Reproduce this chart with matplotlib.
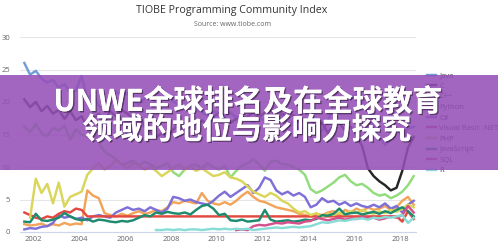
import numpy as np
import matplotlib
matplotlib.use("Agg")
import matplotlib.pyplot as plt
import matplotlib.patheffects as pe
from matplotlib.patches import Rectangle

nan = np.nan

# quarterly samples starting at 2001.6
start_year = 2001.6
step = 0.25

java = [26.0, 24.2,
        24.8, 23.6, 23.0, 23.4,  22.2, 22.8, 21.4, 21.8,  24.0, 20.6, 21.2, 19.4,
        18.6, 20.8, 21.6, 20.9,  21.4, 20.2, 19.6, 20.5,  20.9, 19.8, 20.4, 21.0,
        20.1, 19.5, 19.2, 19.8,  18.9, 18.4, 17.9, 18.6,  18.2, 17.8, 18.4, 17.6,
        17.9, 17.4, 16.9, 17.5,  17.2, 16.6, 17.8, 18.1,  16.4, 16.9, 15.8, 16.2,
        15.4, 14.9, 15.6, 16.8,  19.6, 20.2, 21.0, 20.4,  21.2, 19.8, 18.6, 16.2,
        14.6, 13.4, 14.2, 15.6,  14.8, 15.9, 16.2]
c_lang = [20.4, 19.2,
          20.0, 18.6, 19.4, 18.2,  18.8, 17.4, 18.6, 17.2,  17.8, 16.2, 17.4, 18.2,
          17.0, 18.6, 17.8, 18.8,  18.2, 17.4, 18.0, 16.2,  15.4, 14.6, 15.2, 14.6,
          15.8, 16.4, 15.6, 16.2,  16.8, 17.2, 16.4, 17.8,  18.2, 17.6, 16.8, 17.4,
          17.2, 17.8, 18.4, 17.6,  18.4, 18.8, 17.6, 18.2,  17.8, 18.0, 16.8, 17.4,
          17.2, 16.4, 16.8, 15.2,  16.4, 16.8, 15.6, 16.2,  14.8, 13.2, 9.8, 8.6,
          7.8, 7.2, 6.4, 6.8,  9.4, 13.0, 14.6]
cpp = [16.2, 15.4,
       16.6, 15.2, 14.8, 16.0,  15.6, 16.4, 14.2, 15.8,  15.0, 14.6, 15.8, 13.6,
       12.4, 11.8, 11.2, 10.4,  10.6, 11.0, 10.2, 10.8,  10.4, 9.8, 10.2, 10.6,
       9.2, 8.6, 9.6, 10.2,  10.4, 9.8, 10.6, 10.0,  9.6, 10.2, 8.4, 9.4,
       10.2, 10.6, 11.2, 10.4,  9.4, 10.8, 11.0, 10.4,  10.4, 10.0, 9.6, 8.8,
       6.6, 6.0, 6.4, 7.0,  7.6, 8.4, 8.8, 7.8,  7.2, 7.4, 6.8, 6.0,
       5.6, 5.8, 5.2, 5.6,  6.2, 7.2, 8.6]
python = [1.2, 1.0,
          1.1, 1.3, 0.9, 1.2,  1.0, 1.4, 1.1, 1.3,  1.2, 6.4, 5.6, 5.2,
          2.9, 2.6, 2.4, 2.8,  2.5, 2.9, 3.2, 2.8,  3.0, 3.4, 3.2, 3.8,
          4.6, 4.4, 4.8, 4.6,  4.4, 6.0, 4.8, 4.4,  4.2, 4.6, 4.2, 4.8,
          5.6, 6.2, 5.4, 4.8,  4.6, 4.2, 3.8, 3.6,  3.4, 3.2, 2.8, 2.6,
          2.4, 2.8, 2.6, 3.0,  3.2, 2.6, 3.4, 3.0,  3.6, 3.2, 3.8, 3.4,
          3.6, 4.0, 3.4, 3.8,  4.8, 5.4, 4.2]
csharp = [0.4, 0.6,
          0.5, 0.8, 0.9, 1.4,  2.6, 2.2, 2.4, 2.0,  2.2, 1.8, 2.4, 2.6,
          2.4, 2.2, 3.0, 3.4,  3.8, 3.4, 3.6, 3.2,  3.8, 3.4, 3.0, 3.6,
          5.4, 5.2, 4.8, 5.0,  4.6, 4.4, 4.2, 4.8,  5.6, 6.2, 5.4, 6.0,
          6.6, 7.2, 6.0, 6.8,  8.4, 8.0, 6.4, 5.8,  6.2, 5.6, 6.0, 5.4,
          3.8, 4.2, 5.2, 4.6,  4.8, 4.2, 4.6, 4.0,  4.4, 4.0, 3.8, 4.2,
          3.8, 4.4, 3.6, 4.0,  3.0, 4.2, 4.8]
vbnet = [3.0, 2.6,
         2.2, 2.0, 2.4, 2.2,  2.8, 3.2, 3.0, 3.6,  3.4, 2.4, 2.4, 2.4,
         2.4, 2.4, 2.4, 2.4,  2.4, 2.4, 2.4, 2.4,  2.4, 2.4, 2.4, 2.4,
         2.4, 2.4, 2.4, 2.4,  2.4, 2.4, 2.4, 2.4,  2.4, 2.4, 2.4, 2.4,
         2.4, 2.4, 2.4, 2.4,  2.4, 2.4, 2.4, 2.4,  2.4, 2.4, 2.4, 2.4,
         2.4, 2.4, 2.4, 2.4,  2.4, 2.4, 2.4, 2.4,  2.4, 2.4, 2.4, 2.4,
         2.4, 2.4, 2.4, 2.4,  1.6, 3.2, 2.0]
php = [nan, 2.2,
       8.2, 6.0, 7.4, 4.4,  7.6, 3.9, 5.4, 5.8,  6.2, 8.8, 9.8, 10.6,
       9.6, 10.2, 11.0, 10.4,  9.8, 10.6, 10.2, 9.6,  10.0, 9.4, 8.6, 9.2,
       9.8, 10.4, 9.6, 10.0,  9.4, 9.8, 9.2, 8.6,  8.8, 9.2, 8.4, 8.2,
       7.8, 7.0, 6.2, 5.8,  5.4, 6.0, 5.6, 4.8,  4.4, 3.6, 3.0, 3.2,
       2.6, 2.9, 2.4, 2.8,  2.6, 3.0, 2.7, 3.2,  2.9, 3.4, 3.0, 2.8,
       3.2, 2.9, 3.4, 3.1,  3.6, 4.2, 3.8]
javascript = [1.6, 1.5,
              2.8, 1.8, 1.7, 1.9,  2.2, 2.9, 2.4, 2.0,  1.8, 2.0, 1.6, 1.9,
              1.8, 1.6, 1.5, 1.7,  1.6, 1.8, 2.2, 2.6,  2.4, 3.0, 2.8, 3.1,
              2.9, 2.8, 3.0, 2.7,  3.4, 4.0, 4.2, 3.6,  2.6, 2.8, 1.8, 1.7,
              1.9, 1.6, 1.7, 1.8,  3.4, 1.9, 1.6, 1.7,  1.8, 1.6, 1.7, 1.9,
              1.8, 2.0, 2.6, 2.5,  2.8, 3.6, 2.7, 2.9,  3.0, 2.7, 2.9, 3.1,
              2.8, 3.2, 2.9, 3.4,  3.8, 3.2, 2.4]
sql = [nan, nan,
       nan, nan, nan, nan,  nan, nan, nan, nan,  nan, nan, nan, nan,
       nan, nan, nan, nan,  nan, nan, nan, nan,  nan, nan, nan, nan,
       nan, nan, nan, nan,  nan, nan, nan, nan,  nan, nan, nan, 0.3,
       0.4, 0.3, 0.9, 1.1,  1.0, 1.2, 1.4, 1.3,  1.5, 1.4, 1.3, 1.6,
       1.7, 2.2, 2.0, 1.8,  2.0, 2.2, 1.9, 2.1,  2.0, 2.3, 2.1, 2.2,
       1.9, 2.1, 2.4, 2.2,  2.6, 4.0, 3.0]
r_lang = [nan, nan,
          nan, nan, nan, nan,  nan, nan, nan, nan,  nan, nan, nan, nan,
          nan, nan, nan, nan,  nan, nan, nan, nan,  nan, 0.3, 0.3, 0.4,
          0.3, 0.4, 0.3, 0.4,  0.4, 0.3, 0.4, 0.5,  0.4, 0.5, 0.4, 0.5,
          0.4, 0.5, 0.3, 0.4,  0.5, 0.6, 0.7, 0.6,  0.7, 0.8, 0.7, 0.8,
          0.9, 1.2, 1.5, 1.4,  1.6, 1.8, 1.7, 1.9,  2.0, 2.1, 1.9, 2.2,
          2.1, 2.3, 2.2, 2.4,  2.6, 1.4, 2.2]

languages = ["Java", "C", "C++", "Python", "C#", "Visual Basic .NET",
             "PHP", "JavaScript", "SQL", "R"]
series = [java, c_lang, cpp, python, csharp, vbnet, php, javascript, sql, r_lang]
colors = ["#6f9fd6", "#262626", "#93dc7c", "#f2a55a", "#7f70d8", "#e24a40",
          "#d9d65a", "#1e8b6e", "#d6508e", "#88dcd6"]

year_ticks = [2002, 2004, 2006, 2008, 2010, 2012, 2014, 2016, 2018]
y_ticks = [0, 5, 10, 15, 20, 25, 30]

title = "TIOBE Programming Community Index"
subtitle = "Source: www.tiobe.com"
banner_lines = ["UNWE全球排名及在全球教育", "领域的地位与影响力探究"]

W, H = 498, 246
fig = plt.figure(figsize=(W / 100, H / 100), dpi=100)
fig.patch.set_facecolor("white")

ax = fig.add_axes([20 / W, 1 - 232 / H, (416 - 20) / W, (232 - 37) / H])
for vals, col, name in zip(series, colors, languages):
    x = start_year + step * np.arange(len(vals))
    ax.plot(x, vals, color=col, lw=1.75, label=name, solid_joinstyle="round")

ax.set_xlim(2001.41, 2018.70)
ax.set_ylim(0, 30)
ax.set_xticks(year_ticks)
ax.set_yticks(y_ticks)
ax.grid(axis="y", color="#e6e6e6", lw=0.8)
ax.set_axisbelow(True)
for s in ["top", "right", "left"]:
    ax.spines[s].set_visible(False)
ax.spines["bottom"].set_color("#ccd6eb")
ax.spines["bottom"].set_linewidth(0.8)
ax.tick_params(axis="y", length=0, pad=7, labelsize=5.5, labelcolor="#666666")
ax.tick_params(axis="x", length=0, pad=3, labelsize=5.5, labelcolor="#666666")
for lab in ax.get_xticklabels() + ax.get_yticklabels():
    lab.set_family("Open Sans")

fig.text(232 / W, 1 - 10 / H, title, ha="center", va="center", fontsize=7.7,
         color="#333333", family="Open Sans")
fig.text(232 / W, 1 - 25 / H, subtitle, ha="center", va="center", fontsize=5,
         color="#666666", family="Open Sans")

leg = fig.legend(loc="upper left", bbox_to_anchor=(427 / W, 1 - 72 / H),
                 frameon=False, handlelength=1.15,
                 handletextpad=0.45, labelspacing=0.42, borderpad=0,
                 borderaxespad=0, prop={"family": "Open Sans", "size": 5.5})
for t in leg.get_texts():
    t.set_color("#333333")

# purple banner overlay
fig.patches.append(Rectangle((0, 1 - 170 / H), 1, 95 / H, transform=fig.transFigure,
                             facecolor="#9550b8", alpha=0.88, edgecolor="none",
                             zorder=10))

fx = ["Noto Sans CJK SC", "DejaVu Sans"]
shadow = [pe.withSimplePatchShadow(offset=(1, -1), shadow_rgbFace="black", alpha=0.45),
          pe.Normal()]
fig.text(248 / W, 1 - 102 / H, banner_lines[0], ha="center", va="center",
         fontsize=21.5, fontweight="bold", color="white", family=fx,
         zorder=11, path_effects=shadow)
fig.text(247 / W, 1 - 130 / H, banner_lines[1], ha="center", va="center",
         fontsize=21.5, fontweight="bold", color="white", family=fx,
         zorder=11, path_effects=shadow)

fig.savefig("out.png", dpi=100)
